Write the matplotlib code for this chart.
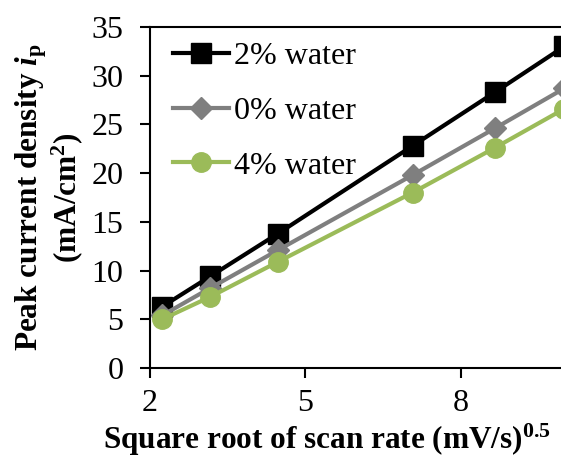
import numpy as np
import matplotlib
matplotlib.use('Agg')
import matplotlib.pyplot as plt

plt.rcParams['font.family'] = 'Liberation Serif'
plt.rcParams['mathtext.fontset'] = 'custom'
plt.rcParams['mathtext.rm'] = 'Liberation Serif:bold'
plt.rcParams['mathtext.bf'] = 'Liberation Serif:bold'
plt.rcParams['mathtext.it'] = 'Liberation Serif:italic:bold'

# square root of scan rate (5, 10, 20, 50, 75, 100 mV/s)
scan_rate = [5, 10, 20, 50, 75, 100]
sqrt_rate = np.sqrt(scan_rate)

ip_2pct = [6.3, 9.4, 13.8, 22.8, 28.3, 33.0]
ip_0pct = [5.4, 8.2, 12.1, 19.8, 24.6, 28.7]
ip_4pct = [5.0, 7.3, 10.9, 18.0, 22.6, 26.6]

fig = plt.figure(figsize=(5.61, 4.58), dpi=100)
# axes run past the right edge of the figure
ax = fig.add_axes([150 / 561, 90 / 458, 466 / 561, 341 / 458])

ax.plot(sqrt_rate, ip_2pct, color='black', lw=3, marker='s', ms=14, label='2% water')
ax.plot(sqrt_rate, ip_0pct, color='#7f7f7f', lw=3, marker='D', ms=11, label='0% water')
ax.plot(sqrt_rate, ip_4pct, color='#9bbb59', lw=3, marker='o', ms=14, label='4% water')

ax.set_xlim(2, 11)
ax.set_ylim(0, 35)
ax.set_xticks([2, 5, 8])
ax.set_yticks(np.arange(0, 36, 5))
ax.tick_params(direction='out', length=7, width=1.5, labelsize=23)
ax.tick_params(axis='y', pad=12)
ax.tick_params(axis='x', pad=8)
for side in ['left', 'bottom', 'top']:
    ax.spines[side].set_linewidth(1.5)

ax.set_xlabel(r'Square root of scan rate (mV/s)$^{\mathbf{0.5}}$',
              fontsize=22.5, fontweight='bold')
ax.xaxis.set_label_coords(0.38, -0.158)
ax.set_ylabel('Peak current density $i_{\\mathrm{p}}$\n(mA/cm$^{\\mathbf{2}}$)',
              fontsize=22.5, fontweight='bold', linespacing=1.0)
ax.yaxis.set_label_coords(-0.14, 0.5)

ax.legend(loc='upper left', frameon=False, fontsize=23, handlelength=1.75,
          labelspacing=0.8, borderaxespad=0.0, handletextpad=0.15,
          bbox_to_anchor=(0.022, 0.995))

fig.savefig('out.png', dpi=100)
